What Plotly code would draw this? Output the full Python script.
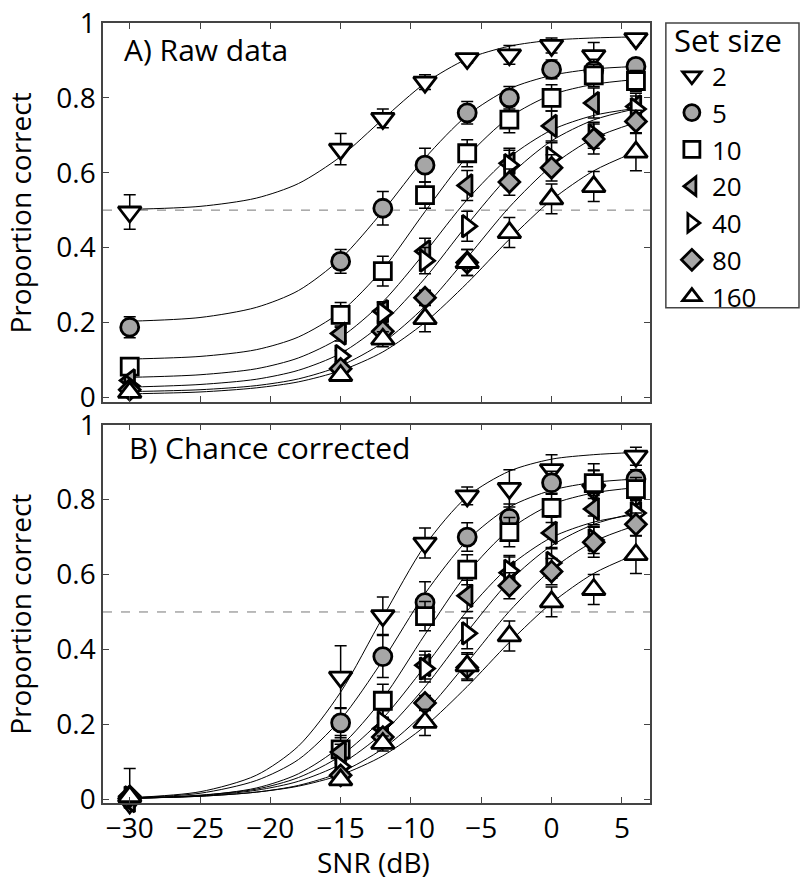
import plotly.graph_objects as go

# SNR levels (dB) of the measurements
snr = [-30, -15, -12, -9, -6, -3, 0, 3, 6]
snr_fit = [-30, -25, -21, -18, -15, -12, -9, -6, -3, 0, 3, 6]

set_sizes = ["2", "5", "10", "20", "40", "80", "160"]

# A) raw proportion correct, one list per set size
raw_2 = [0.495, 0.663, 0.745, 0.842, 0.905, 0.915, 0.940, 0.913, 0.958]
raw_5 = [0.187, 0.363, 0.505, 0.620, 0.760, 0.800, 0.876, 0.873, 0.884]
raw_10 = [0.082, 0.220, 0.337, 0.540, 0.652, 0.742, 0.800, 0.860, 0.845]
raw_20 = [0.045, 0.170, 0.230, 0.390, 0.566, 0.625, 0.725, 0.786, 0.777]
raw_40 = [0.030, 0.110, 0.225, 0.365, 0.457, 0.620, 0.640, 0.700, 0.770]
raw_80 = [0.020, 0.076, 0.176, 0.266, 0.360, 0.575, 0.613, 0.690, 0.737]
raw_160 = [0.013, 0.058, 0.155, 0.210, 0.360, 0.440, 0.530, 0.563, 0.655]

raw_err_2 = [0.046, 0.042, 0.025, 0.020, 0.012, 0.025, 0.020, 0.035, 0.012]
raw_err_5 = [0.028, 0.032, 0.045, 0.045, 0.030, 0.030, 0.025, 0.030, 0.020]
raw_err_10 = [0.015, 0.033, 0.040, 0.035, 0.036, 0.035, 0.035, 0.030, 0.028]
raw_err_20 = [0.012, 0.020, 0.025, 0.035, 0.040, 0.040, 0.040, 0.040, 0.035]
raw_err_40 = [0.010, 0.015, 0.030, 0.035, 0.040, 0.040, 0.040, 0.035, 0.035]
raw_err_80 = [0.008, 0.012, 0.025, 0.020, 0.035, 0.035, 0.035, 0.040, 0.030]
raw_err_160 = [0.006, 0.010, 0.020, 0.035, 0.035, 0.040, 0.040, 0.040, 0.050]

raw_fit_2 = [0.502, 0.510, 0.532, 0.571, 0.643, 0.743, 0.839, 0.904, 0.938, 0.954, 0.960, 0.963]
raw_fit_5 = [0.203, 0.213, 0.240, 0.285, 0.370, 0.497, 0.639, 0.753, 0.824, 0.860, 0.877, 0.884]
raw_fit_10 = [0.102, 0.109, 0.127, 0.161, 0.228, 0.342, 0.496, 0.643, 0.748, 0.808, 0.836, 0.849]
raw_fit_20 = [0.053, 0.060, 0.076, 0.105, 0.160, 0.255, 0.387, 0.528, 0.641, 0.714, 0.753, 0.772]
raw_fit_40 = [0.027, 0.034, 0.048, 0.072, 0.117, 0.198, 0.318, 0.461, 0.592, 0.685, 0.741, 0.771]
raw_fit_80 = [0.015, 0.020, 0.031, 0.049, 0.084, 0.146, 0.243, 0.373, 0.508, 0.618, 0.692, 0.734]
raw_fit_160 = [0.009, 0.014, 0.025, 0.041, 0.071, 0.121, 0.200, 0.305, 0.422, 0.527, 0.605, 0.656]

# B) chance corrected proportion correct
cc_2 = [-0.010, 0.326, 0.490, 0.684, 0.810, 0.830, 0.880, 0.826, 0.916]
cc_5 = [-0.016, 0.204, 0.381, 0.525, 0.700, 0.750, 0.845, 0.841, 0.855]
cc_10 = [-0.020, 0.133, 0.263, 0.489, 0.613, 0.713, 0.778, 0.844, 0.828]
cc_20 = [-0.005, 0.126, 0.189, 0.358, 0.543, 0.605, 0.711, 0.775, 0.765]
cc_40 = [0.005, 0.087, 0.205, 0.349, 0.443, 0.610, 0.631, 0.692, 0.764]
cc_80 = [0.008, 0.064, 0.166, 0.257, 0.352, 0.570, 0.608, 0.686, 0.734]
cc_160 = [0.007, 0.052, 0.149, 0.205, 0.356, 0.436, 0.527, 0.560, 0.653]

cc_err_2 = [0.092, 0.084, 0.050, 0.040, 0.024, 0.050, 0.040, 0.070, 0.024]
cc_err_5 = [0.035, 0.040, 0.056, 0.056, 0.038, 0.038, 0.031, 0.038, 0.025]
cc_err_10 = [0.017, 0.037, 0.044, 0.039, 0.040, 0.039, 0.039, 0.033, 0.031]
cc_err_20 = [0.013, 0.021, 0.026, 0.037, 0.042, 0.042, 0.042, 0.042, 0.037]
cc_err_40 = [0.010, 0.015, 0.031, 0.036, 0.041, 0.041, 0.041, 0.036, 0.036]
cc_err_80 = [0.008, 0.012, 0.025, 0.020, 0.035, 0.035, 0.035, 0.040, 0.030]
cc_err_160 = [0.006, 0.010, 0.020, 0.035, 0.035, 0.040, 0.040, 0.040, 0.050]
# lower bars at -30 dB are cut off by the axis in the original
cc_err_lo_2 = [0.010, 0.084, 0.050, 0.040, 0.024, 0.050, 0.040, 0.070, 0.024]

cc_fit_2 = [0.004, 0.020, 0.064, 0.142, 0.286, 0.486, 0.678, 0.808, 0.876, 0.908, 0.920, 0.926]
cc_fit_5 = [0.004, 0.016, 0.050, 0.106, 0.213, 0.371, 0.549, 0.691, 0.780, 0.825, 0.846, 0.855]
cc_fit_10 = [0.002, 0.010, 0.030, 0.068, 0.142, 0.269, 0.440, 0.603, 0.720, 0.787, 0.818, 0.832]
cc_fit_20 = [0.003, 0.011, 0.027, 0.058, 0.116, 0.216, 0.355, 0.503, 0.622, 0.699, 0.740, 0.760]
cc_fit_40 = [0.002, 0.009, 0.024, 0.048, 0.094, 0.177, 0.300, 0.447, 0.582, 0.677, 0.734, 0.765]
cc_fit_80 = [0.003, 0.008, 0.019, 0.037, 0.072, 0.135, 0.233, 0.365, 0.502, 0.613, 0.688, 0.731]
cc_fit_160 = [0.003, 0.008, 0.019, 0.035, 0.065, 0.116, 0.195, 0.301, 0.419, 0.524, 0.603, 0.654]

raw = [raw_2, raw_5, raw_10, raw_20, raw_40, raw_80, raw_160]
raw_err = [raw_err_2, raw_err_5, raw_err_10, raw_err_20, raw_err_40, raw_err_80, raw_err_160]
raw_fit = [raw_fit_2, raw_fit_5, raw_fit_10, raw_fit_20, raw_fit_40, raw_fit_80, raw_fit_160]
cc = [cc_2, cc_5, cc_10, cc_20, cc_40, cc_80, cc_160]
cc_err = [cc_err_2, cc_err_5, cc_err_10, cc_err_20, cc_err_40, cc_err_80, cc_err_160]
cc_err_lo = [cc_err_lo_2] + cc_err[1:]
cc_fit = [cc_fit_2, cc_fit_5, cc_fit_10, cc_fit_20, cc_fit_40, cc_fit_80, cc_fit_160]

# marker style per set size
symbols = ["triangle-down", "circle", "square", "triangle-left",
           "triangle-right", "diamond", "triangle-up"]
sizes = [20, 18, 17, 19, 19, 16, 20]
GRAY = "#a6a6a6"
fills = ["white", GRAY, "white", GRAY, "white", GRAY, "white"]

FONT = "Open Sans"

fig = go.Figure()

panels = [
    ("x", "y", raw, raw_err, raw_err, raw_fit),
    ("x2", "y2", cc, cc_err, cc_err_lo, cc_fit),
]
for p, (xa, ya, vals, err_hi, err_lo, fits) in enumerate(panels):
    # fitted curves first so that the markers sit on top
    for i in range(len(set_sizes)):
        fig.add_trace(go.Scatter(
            x=snr_fit, y=fits[i], xaxis=xa, yaxis=ya,
            mode="lines", line=dict(color="black", width=1, shape="spline", smoothing=0.8),
            showlegend=False, hoverinfo="skip",
        ))
    for i in range(len(set_sizes)):
        fig.add_trace(go.Scatter(
            x=snr, y=vals[i], xaxis=xa, yaxis=ya,
            mode="markers", name=set_sizes[i],
            marker=dict(symbol=symbols[i], size=sizes[i], color=fills[i],
                        line=dict(color="black", width=2.8)),
            error_y=dict(type="data", array=err_hi[i], arrayminus=err_lo[i],
                         color="black", thickness=1.5, width=6),
            cliponaxis=False,
            showlegend=(p == 0),
        ))

axis_common = dict(
    showline=True, linecolor="#444", linewidth=1.5, mirror="ticks",
    ticks="inside", ticklen=6, tickcolor="#444", tickwidth=1.2,
    showgrid=False, zeroline=False, automargin=False, ticklabeloverflow="allow",
    tickfont=dict(family=FONT, size=28, color="black"),
)
xticks = [-30, -25, -20, -15, -10, -5, 0, 5]
yticks = [0, 0.2, 0.4, 0.6, 0.8, 1]

fig.update_layout(
    width=800, height=880,
    margin=dict(l=103, r=150, t=13, b=77),
    paper_bgcolor="white", plot_bgcolor="white",
    font=dict(family=FONT, color="black"),
    xaxis=dict(domain=[0, 1], anchor="y", range=[-31.9, 7], tickvals=xticks,
               showticklabels=False, **axis_common),
    yaxis=dict(domain=[0.514, 1], anchor="x", range=[-0.013, 1.0], tickvals=yticks, **axis_common),
    xaxis2=dict(domain=[0, 1], anchor="y2", range=[-31.9, 7], tickvals=xticks, **axis_common),
    yaxis2=dict(domain=[0, 0.485], anchor="x2", range=[-0.01, 1.0], tickvals=yticks, **axis_common),
    legend=dict(
        x=1.040, y=1.014, xanchor="left", yanchor="top",
        bgcolor="rgba(0,0,0,0)", borderwidth=0,
        font=dict(family=FONT, size=26),
        title=dict(text="Set size", font=dict(family=FONT, size=31)),
        tracegroupgap=0,
    ),
    showlegend=True,
)

# chance level lines
for ya in ["y", "y2"]:
    fig.add_shape(type="line", xref="x domain" if ya == "y" else "x2 domain", yref=ya,
                  x0=0, x1=1, y0=0.5, y1=0.5,
                  line=dict(color="#777", width=1, dash="dash"), layer="below")

# legend frame
fig.add_shape(type="rect", xref="paper", yref="paper",
              x0=1.029, x1=1.2724, y0=0.635, y1=1.0,
              line=dict(color="#444", width=1.5))

# axis titles
for ya in ["y", "y2"]:
    fig.add_annotation(text="Proportion correct", xref="paper", yref=ya + " domain",
                       x=-0.1518, y=0.5, xanchor="center", yanchor="middle",
                       textangle=-90, showarrow=False, font=dict(family=FONT, size=28))
fig.add_annotation(text="SNR (dB)", xref="paper", yref="paper", x=0.495, y=-0.075,
                   xanchor="center", yanchor="middle", showarrow=False,
                   font=dict(family=FONT, size=28))

fig.add_annotation(text="A) Raw data", xref="x domain", yref="y domain",
                   x=0.035, y=0.93, xanchor="left", yanchor="middle", showarrow=False,
                   font=dict(family=FONT, size=30))
fig.add_annotation(text="B) Chance corrected", xref="x2 domain", yref="y2 domain",
                   x=0.043, y=0.94, xanchor="left", yanchor="middle", showarrow=False,
                   font=dict(family=FONT, size=30))

fig.write_html("out.html", config={"displayModeBar": False},
               post_script="document.body.style.margin='0px';")
